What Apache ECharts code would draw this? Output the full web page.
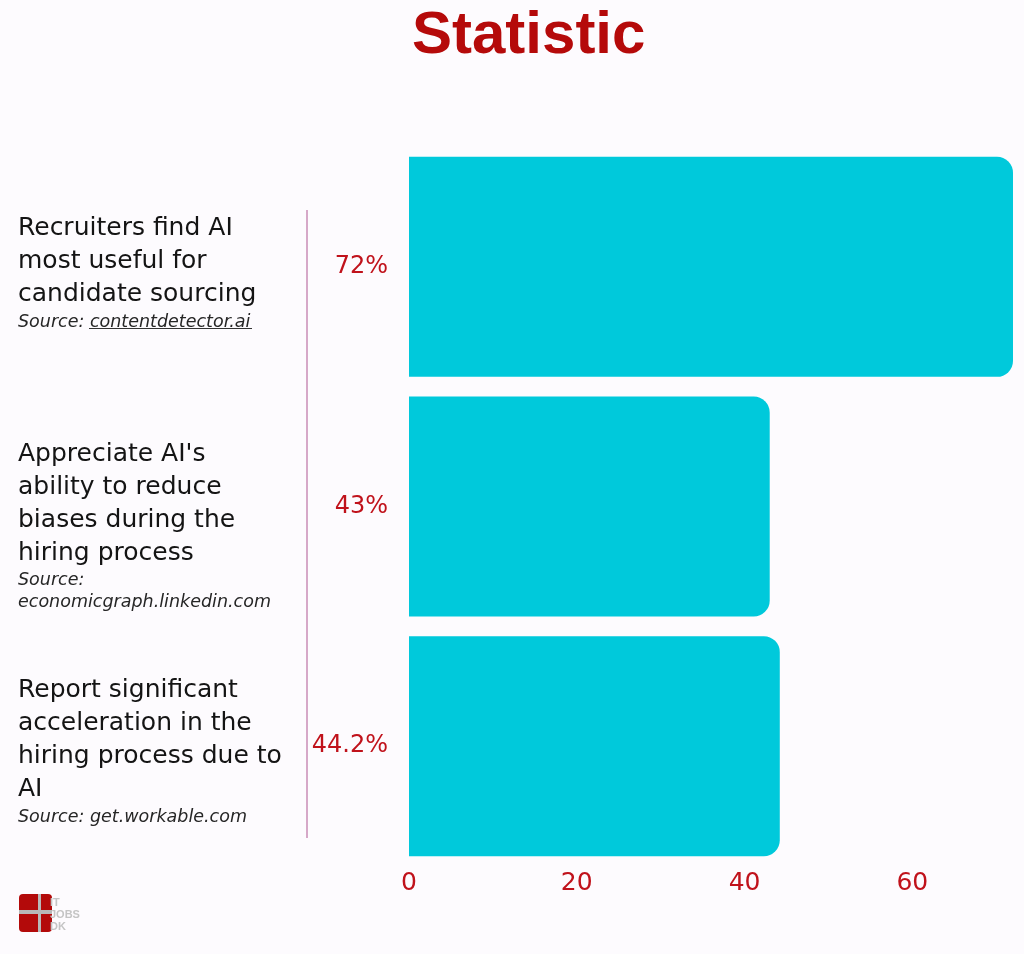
<!DOCTYPE html>
<html>
<head>
<meta charset="utf-8">
<script src="https://cdn.jsdelivr.net/npm/echarts@6/dist/echarts.min.js"></script>
<style>
html,body{margin:0;padding:0;background:#fdfbfe;}
#chart{width:1024px;height:954px;}
</style>
</head>
<body>
<div id="chart"></div>
<script>
const categories = [
  "Recruiters find AI\nmost useful for\ncandidate sourcing",
  "Appreciate AI's\nability to reduce\nbiases during the\nhiring process",
  "Report significant\nacceleration in the\nhiring process due to\nAI"
];
const sources = [
  "Source: contentdetector.ai",
  "Source:\neconomicgraph.linkedin.com",
  "Source: get.workable.com"
];
const values = [72, 43, 44.2];
const valueLabels = ["72%", "43%", "44.2%"];
const xTicks = [0, 20, 40, 60];

// label vertical nudges (style only)
const labelPadTop = [12, 38, 10];

const chart = echarts.init(document.getElementById('chart'));
const red = '#c0121b';
const font = 'DejaVu Sans, Noto Sans, sans-serif';
chart.setOption({
  backgroundColor: '#fdfbfe',
  animation: false,
  title: {
    text: 'Statistic',
    left: 407,
    top: 1,
    textStyle: {
      fontFamily: 'Liberation Sans, Arial, sans-serif',
      fontWeight: 'bold',
      fontSize: 60,
      color: '#b50a0a'
    }
  },
  grid: { left: 409, right: 11, top: 147, bottom: 88, containLabel: false, outerBoundsMode: 'none' },
  xAxis: {
    type: 'value', min: 0, max: 72, interval: 20,
    splitLine: { show: false },
    axisLine: { show: false },
    axisTick: { show: false },
    axisLabel: {
      color: red, fontSize: 25, margin: 5,
      fontFamily: font,
      formatter: v => xTicks.includes(v) ? String(v) : ''
    }
  },
  yAxis: {
    type: 'category', inverse: true,
    data: categories.map((c, i) => ({ value: c, textStyle: { align: 'left', verticalAlign: 'middle', padding: [labelPadTop[i], 0, 0, 0] } })),
    axisLine: { show: false },
    axisTick: { show: false },
    axisLabel: {
      align: 'left', margin: 391, verticalAlign: 'middle',
      formatter: (v, i) => {
        const t = v.split('\n').map(l => '{t|' + l + '}').join('\n');
        const s = sources[i].split('\n').map(l => '{s|' + l + '}').join('\n');
        return t + '\n' + s;
      },
      rich: {
        t: { fontSize: 25, lineHeight: 33, color: '#141414', fontFamily: font },
        s: { fontSize: 17.5, lineHeight: 22, color: '#262626', fontStyle: 'italic', fontFamily: font }
      }
    }
  },
  series: [{
    type: 'bar',
    data: values,
    barWidth: 220,
    itemStyle: { color: '#00c9db', borderRadius: [0, 16, 16, 0] },
    label: {
      show: true, position: 'left', distance: 21,
      color: red, fontSize: 24,
      fontFamily: font,
      formatter: p => valueLabels[p.dataIndex]
    }
  }],
  graphic: [
    { type: 'line', shape: { x1: 307, y1: 210, x2: 307, y2: 838 }, style: { stroke: '#d6a8c8', lineWidth: 2 } },
    { type: 'line', shape: { x1: 89, y1: 328.5, x2: 252, y2: 328.5 }, style: { stroke: '#333333', lineWidth: 1 } },
    { type: 'rect', shape: { x: 19, y: 894, width: 33, height: 38, r: 4 }, style: { fill: '#b30a0a' } },
    { type: 'rect', shape: { x: 19, y: 910, width: 33, height: 4 }, style: { fill: '#b8b8b8' } },
    { type: 'rect', shape: { x: 38, y: 894, width: 3, height: 38 }, style: { fill: '#b8b8b8' } },
    { type: 'text', left: 50, top: 897, style: { text: 'IT\nJOBS\nDK', fontSize: 11, lineHeight: 12, fill: '#c4c4c4', fontFamily: 'Liberation Sans', fontWeight: 'bold' } }
  ]
});
</script>
</body>
</html>
